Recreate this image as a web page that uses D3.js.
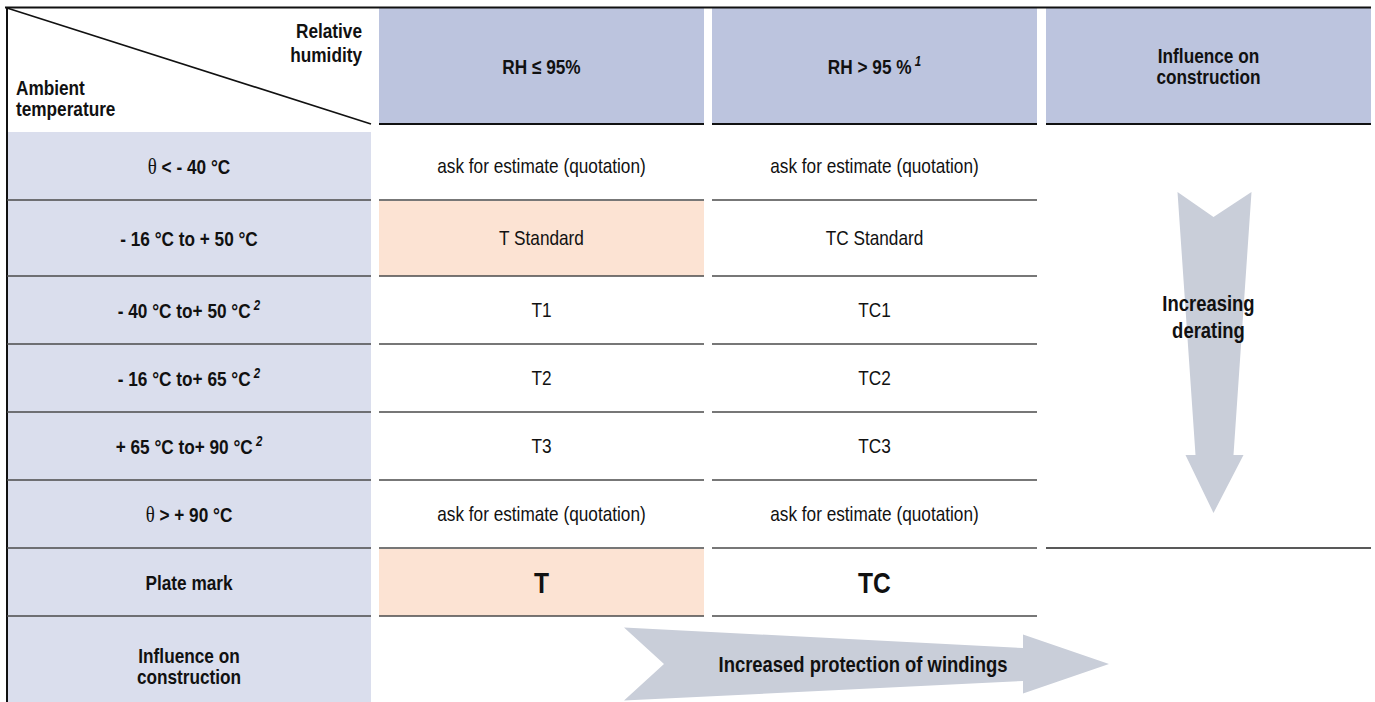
<!DOCTYPE html>
<html><head><meta charset="utf-8">
<script src="https://cdn.jsdelivr.net/npm/d3@7"></script>
<style>
body{margin:0;background:#fff}
svg{display:block}
text{font-family:"Liberation Sans","Arial",sans-serif;fill:#111}
</style></head>
<body><div id="chart"></div>
<script>
// ---------- data ----------
const cornerTop = ["Relative", "humidity"];
const cornerBottom = ["Ambient", "temperature"];
const columnHeaders = [["RH ≤ 95%"], ["RH > 95 %"], ["Influence on", "construction"]];
const columnNotes = ["", "1", ""];
const rowLabels = ["θ < - 40 °C", "- 16 °C to + 50 °C", "- 40 °C to+ 50 °C", "- 16 °C to+ 65 °C",
                   "+ 65 °C to+ 90 °C", "θ > + 90 °C", "Plate mark", "Influence on|construction"];
const rowNotes = ["", "", "2", "2", "2", "", "", ""];
const rhLow  = ["ask for estimate (quotation)", "T Standard", "T1", "T2", "T3", "ask for estimate (quotation)", "T"];
const rhHigh = ["ask for estimate (quotation)", "TC Standard", "TC1", "TC2", "TC3", "ask for estimate (quotation)", "TC"];
const standardFlag = [0, 1, 0, 0, 0, 0, 1];
const downArrowLabel = ["Increasing", "derating"];
const rightArrowLabel = ["Increased protection of windings"];

// ---------- layout ----------
const W = 1375, H = 702;
const svg = d3.select("#chart").append("svg").attr("width", W).attr("height", H);

const colEdges = [[7, 371], [379, 704], [712, 1037], [1046, 1371]];
const xL = d3.scaleOrdinal().domain([0,1,2,3]).range(colEdges.map(d => d[0]));
const xR = d3.scaleOrdinal().domain([0,1,2,3]).range(colEdges.map(d => d[1]));
const xC = i => (xL(i) + xR(i)) / 2;

const edgePx = [132, 200, 276, 344, 412, 480, 548, 616, 702];
const y = d3.scaleLinear().domain(d3.range(edgePx.length)).range(edgePx);
const yMid = i => (y(i) + y(i + 1)) / 2;
const headTop = 8, headBottom = 124;

const C = {head: "#bcc4de", first: "#dadeed", std: "#fce3d3", arrow: "#c9ced9", line: "#4a4a4a"};
const SX = 0.82, FS = 21;
// emulate a narrow (condensed) face by compressing horizontally around an anchor x
const squeeze = (sel, x0) => sel.attr("transform", `translate(${x0 * (1 - SX)},0) scale(${SX},1)`);

// first column fill
svg.append("rect").attr("x", xL(0)).attr("y", y(0)).attr("width", xR(0) - xL(0)).attr("height", H - y(0)).attr("fill", C.first);

// header cells
svg.selectAll("rect.head").data([1,2,3]).join("rect").attr("class","head")
  .attr("x", d => xL(d)).attr("y", headTop).attr("width", d => xR(d) - xL(d)).attr("height", headBottom - headTop)
  .attr("fill", C.head);

// standard highlight cells
svg.selectAll("rect.std").data(standardFlag.map((f,i)=>({f,i})).filter(d=>d.f)).join("rect").attr("class","std")
  .attr("x", xL(1)).attr("y", d => y(d.i) + 1).attr("width", xR(1) - xL(1)).attr("height", d => y(d.i+1) - y(d.i) - 1)
  .attr("fill", C.std);

// arrows
const ax = xC(3) + 5;
const down = [
  [ax - 36, y(0) + 60], [ax, y(0) + 85], [ax + 38, y(0) + 60],
  [ax + 20, y(4) + 43], [ax + 30, y(4) + 43], [ax, y(5) + 33],
  [ax - 28, y(4) + 43], [ax - 18, y(4) + 43]
];
svg.append("path").attr("d", d3.line()(down) + "Z").attr("fill", C.arrow);

const ay = yMid(7) + 5;
const rx0 = xL(1) + 245, rx1 = xL(3) - 23;
const right = [
  [rx0, ay - 36.5], [rx1, ay - 16], [rx1, ay - 29.5], [rx1 + 86, ay],
  [rx1, ay + 29.5], [rx1, ay + 17], [rx0, ay + 36.5], [rx0 + 40, ay]
];
svg.append("path").attr("d", d3.line()(right) + "Z").attr("fill", C.arrow);

// borders
svg.append("line").attr("x1", 5).attr("x2", xR(3)).attr("y1", headTop - 0.5).attr("y2", headTop - 0.5)
  .attr("stroke", "#111").attr("stroke-width", 2);
svg.append("line").attr("x1", xL(0)).attr("x2", xL(0)).attr("y1", headTop - 1).attr("y2", H)
  .attr("stroke", "#111").attr("stroke-width", 2);
svg.append("line").attr("x1", xL(0)).attr("y1", headTop).attr("x2", xR(0)).attr("y2", headBottom)
  .attr("stroke", "#111").attr("stroke-width", 1.6);
svg.selectAll("line.hb").data([1,2,3]).join("line").attr("class","hb")
  .attr("x1", d => xL(d)).attr("x2", d => xR(d)).attr("y1", headBottom).attr("y2", headBottom)
  .attr("stroke", "#111").attr("stroke-width", 2);

// row lines
const lineData = [];
for (let e = 1; e <= 7; e++) for (const c of [0,1,2]) lineData.push({e, c});
lineData.push({e: 6, c: 3});
svg.selectAll("line.row").data(lineData).join("line").attr("class","row")
  .attr("x1", d => xL(d.c)).attr("x2", d => xR(d.c)).attr("y1", d => y(d.e)).attr("y2", d => y(d.e))
  .attr("stroke", d => d.c === 3 ? "#222" : C.line).attr("stroke-width", 1.6);

// ---------- text ----------
const ctx = xR(0) - 9;
squeeze(svg.append("text").attr("text-anchor", "end").attr("font-weight", "bold").attr("font-size", FS), ctx)
  .selectAll("tspan").data(cornerTop).join("tspan").attr("x", ctx).attr("y", (d,i) => 38 + i * 24).text(d => d);
const cbx = xL(0) + 9;
squeeze(svg.append("text").attr("font-weight", "bold").attr("font-size", FS), cbx)
  .selectAll("tspan").data(cornerBottom).join("tspan").attr("x", cbx).attr("y", (d,i) => 95 + i * 21).text(d => d);

// column headers
columnHeaders.forEach((lines, k) => {
  const c = k + 1;
  const cy = (headTop + headBottom) / 2 + 8 - (lines.length - 1) * 10.5;
  const t = squeeze(svg.append("text").attr("text-anchor", "middle").attr("font-weight", "bold").attr("font-size", FS), xC(c));
  lines.forEach((ln, i) => {
    t.append("tspan").attr("x", xC(c)).attr("y", cy + i * 21).text(ln);
  });
  if (columnNotes[k]) {
    t.append("tspan").attr("font-size", 14).attr("font-style", "italic").attr("dy", -8).text(" " + columnNotes[k]);
  }
});

// row labels
rowLabels.forEach((lab, i) => {
  const lines = lab.split("|");
  const cy = yMid(i) + 8 - (lines.length - 1) * 10.5 + (lines.length > 1 ? 7 : 0);
  const t = squeeze(svg.append("text").attr("text-anchor", "middle").attr("font-weight", "bold").attr("font-size", FS), xC(0));
  lines.forEach((ln, j) => {
    const first = t.append("tspan").attr("x", xC(0)).attr("y", cy + j * 21);
    if (ln.startsWith("θ")) {
      first.attr("font-family", "'Liberation Serif','DejaVu Serif',serif").attr("font-weight", "normal").attr("font-size", 23).text("θ");
      t.append("tspan").text(ln.slice(1));
    } else {
      first.text(ln);
    }
  });
  if (rowNotes[i]) {
    t.append("tspan").attr("font-size", 14).attr("font-style", "italic").attr("dy", -8).text(" " + rowNotes[i]);
  }
});

// values
[rhLow, rhHigh].forEach((vals, k) => {
  const c = k + 1;
  squeeze(svg.selectAll("text.v" + c).data(vals).join("text").attr("class", "v" + c)
    .attr("x", xC(c)).attr("y", (d, i) => yMid(i) + (i === 6 ? 11 : 7.5))
    .attr("text-anchor", "middle")
    .attr("font-size", (d, i) => i === 6 ? 30 : FS)
    .attr("font-weight", (d, i) => i === 6 ? "bold" : "normal")
    .text(d => d), xC(c));
});

// arrow labels
squeeze(svg.append("text").attr("text-anchor", "middle").attr("font-weight", "bold").attr("font-size", 22.5), xC(3))
  .selectAll("tspan").data(downArrowLabel).join("tspan").attr("x", xC(3)).attr("y", (d,i) => 311 + i * 27).text(d => d);
squeeze(svg.append("text").attr("text-anchor", "middle").attr("font-weight", "bold").attr("font-size", 22.5)
  .attr("x", 863).attr("y", ay + 8).text(rightArrowLabel[0]), 863);
</script>
</body></html>
